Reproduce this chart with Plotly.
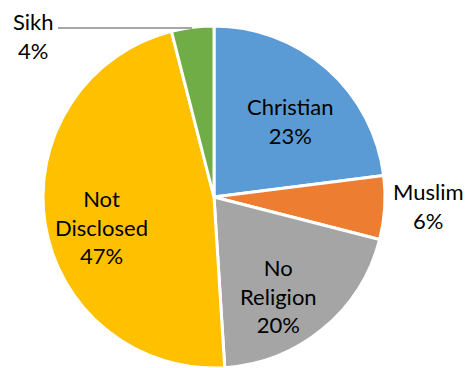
import plotly.graph_objects as go

# Religion breakdown (percent of respondents)
categories = ["Christian", "Muslim", "No Religion", "Not Disclosed", "Sikh"]
values = [23, 6, 20, 47, 4]
colors = ["#5B9BD5", "#ED7D31", "#A5A5A5", "#FFC000", "#70AD47"]

# label text lines per slice (how each category name wraps)
label_lines = {
    "Christian": ["Christian"],
    "Muslim": ["Muslim"],
    "No Religion": ["No", "Religion"],
    "Not Disclosed": ["Not", "Disclosed"],
    "Sikh": ["Sikh"],
}

W, H = 470, 368

# label centres in pixels (x from left, y from top)
label_pos = {
    "Christian": (290, 121),
    "Muslim": (428, 206),
    "No Religion": (278, 296),
    "Not Disclosed": (101, 227),
    "Sikh": (33, 36),
}

FONT = "Lato"
FSIZE = 22

fig = go.Figure(
    go.Pie(
        labels=categories,
        values=values,
        sort=False,
        direction="clockwise",
        rotation=0,
        marker=dict(colors=colors, line=dict(color="white", width=3)),
        textinfo="none",
        hoverinfo="label+percent",
        showlegend=False,
        domain=dict(x=[43 / W, 385 / W], y=[0, 342 / H]),
    )
)

total = sum(values)
for cat, val in zip(categories, values):
    px, py = label_pos[cat]
    pct = round(100 * val / total)
    text = "<br>".join(label_lines[cat] + [f"{pct}%"])
    fig.add_annotation(
        x=px / W,
        y=1 - py / H,
        xref="paper",
        yref="paper",
        text=text,
        showarrow=False,
        xanchor="center",
        yanchor="middle",
        align="center",
        font=dict(family=FONT, size=FSIZE, color="#000000"),
    )

# leader line for the small Sikh slice
fig.add_shape(
    type="line",
    xref="paper",
    yref="paper",
    x0=58 / W,
    x1=192 / W,
    y0=1 - 28 / H,
    y1=1 - 28 / H,
    line=dict(color="#A6A6A6", width=2),
)

fig.update_layout(
    width=W,
    height=H,
    margin=dict(l=0, r=0, t=0, b=0),
    paper_bgcolor="white",
    plot_bgcolor="white",
)

fig.write_html("out.html")
